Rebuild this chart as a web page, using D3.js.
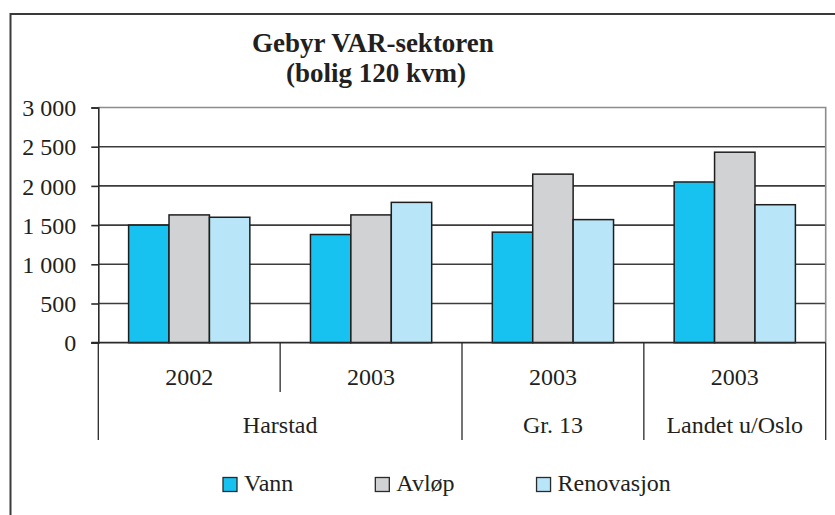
<!DOCTYPE html>
<html>
<head>
<meta charset="utf-8">
<script src="https://cdn.jsdelivr.net/npm/d3@7/dist/d3.min.js"></script>
<style>
  html, body { margin: 0; padding: 0; background: #fff; }
  svg { display: block; }
</style>
</head>
<body>
<svg id="chart" width="835" height="515"></svg>
<script>
// Fees per service, in NOK, for a 120 m² dwelling
const years   = ["2002", "2003", "2003", "2003"];
const regions = ["Harstad", "Harstad", "Gr. 13", "Landet u/Oslo"];
const seriesNames = ["Vann", "Avløp", "Renovasjon"];
const vann       = [1500, 1380, 1410, 2050];
const avlop      = [1630, 1630, 2150, 2430];
const renovasjon = [1600, 1790, 1570, 1760];
const yTicks = [0, 500, 1000, 1500, 2000, 2500, 3000];
const colors = ["#17c2f1", "#d1d2d4", "#b9e5f8"];

const seriesValues = [vann, avlop, renovasjon];
const FONT = "'Liberation Serif', 'DejaVu Serif', serif";

const svg = d3.select("#chart");

// outer chart frame
svg.append("rect")
  .attr("x", 10.5).attr("y", 14).attr("width", 900).attr("height", 600)
  .attr("fill", "none").attr("stroke", "#3a3a3a").attr("stroke-width", 2);

// title
const title = svg.append("text")
  .attr("text-anchor", "middle")
  .attr("font-weight", "bold")
  .attr("font-size", 27);
title.append("tspan").attr("x", 373).attr("y", 52).text("Gebyr VAR-sektoren");
title.append("tspan").attr("x", 376).attr("y", 82).text("(bolig 120 kvm)");

const plot = { left: 98.3, right: 825.7, top: 107.5, bottom: 342.7 };

const x0 = d3.scaleBand()
  .domain(d3.range(years.length))
  .range([plot.left, plot.right])
  .paddingInner(0).paddingOuter(0);

const x1 = d3.scaleBand()
  .domain(d3.range(seriesNames.length))
  .range([0, x0.bandwidth()])
  .paddingInner(0).paddingOuter(0.75);

const y = d3.scaleLinear().domain([0, 3000]).range([plot.bottom, plot.top]);

// horizontal gridlines
svg.append("g").selectAll("line")
  .data(yTicks.filter(t => t > 0 && t < 3000))
  .join("line")
  .attr("x1", plot.left).attr("x2", plot.right)
  .attr("y1", d => y(d)).attr("y2", d => y(d))
  .attr("stroke", "#3c3c3c").attr("stroke-width", 1.6);

// plot-area border (top and right)
svg.append("path")
  .attr("d", `M${plot.left},${y(3000)}H${plot.right}V${plot.bottom}`)
  .attr("fill", "none").attr("stroke", "#8c8c8c").attr("stroke-width", 1.6);

// y axis
const yAxis = d3.axisLeft(y)
  .tickValues(yTicks)
  .tickSize(7)
  .tickPadding(15)
  .tickFormat(d => d3.format(",")(d).replace(/,/g, " "));
const gy = svg.append("g")
  .attr("transform", `translate(${plot.left},0)`)
  .call(yAxis);
gy.select(".domain").attr("stroke", "#2a2a2a").attr("stroke-width", 1.6);
gy.selectAll(".tick line").attr("stroke", "#2a2a2a").attr("stroke-width", 1.6);
gy.selectAll(".tick text")
  .attr("font-size", 24)
  .attr("dy", "0.34em");

// bars
const groups = svg.append("g").selectAll("g")
  .data(years.map((yr, i) => i))
  .join("g")
  .attr("transform", i => `translate(${x0(i)},0)`);

groups.selectAll("rect")
  .data(i => seriesValues.map((vals, s) => ({ s, v: vals[i] })))
  .join("rect")
  .attr("x", d => x1(d.s))
  .attr("width", x1.bandwidth())
  .attr("y", d => y(d.v))
  .attr("height", d => y(0) - y(d.v))
  .attr("fill", d => colors[d.s])
  .attr("stroke", "#1e1e1e")
  .attr("stroke-width", 1.5);

// category axis line
svg.append("line")
  .attr("x1", plot.left - 7).attr("x2", plot.right)
  .attr("y1", plot.bottom).attr("y2", plot.bottom)
  .attr("stroke", "#2a2a2a").attr("stroke-width", 1.8);

// multi-level category dividers
const innerBottom = 392, outerBottom = 440;
const boundaries = d3.range(years.length + 1).map(k => {
  const xPos = k < years.length ? x0(k) : plot.right;
  const full = k === 0 || k === years.length || regions[k] !== regions[k - 1];
  return { x: xPos, full };
});
svg.append("g").selectAll("line")
  .data(boundaries)
  .join("line")
  .attr("x1", d => d.x).attr("x2", d => d.x)
  .attr("y1", plot.bottom).attr("y2", d => d.full ? outerBottom : innerBottom)
  .attr("stroke", "#2a2a2a").attr("stroke-width", 1.3);

// first level: years
svg.append("g").selectAll("text")
  .data(years)
  .join("text")
  .attr("x", (d, i) => x0(i) + x0.bandwidth() / 2)
  .attr("y", 385)
  .attr("text-anchor", "middle")
  .attr("font-size", 24)
  .text(d => d);

// second level: regions spanning consecutive groups
const spans = [];
regions.forEach((r, i) => {
  const last = spans[spans.length - 1];
  if (last && last.name === r) last.end = i;
  else spans.push({ name: r, start: i, end: i });
});
svg.append("g").selectAll("text")
  .data(spans)
  .join("text")
  .attr("x", d => (x0(d.start) + x0(d.end) + x0.bandwidth()) / 2)
  .attr("y", 433)
  .attr("text-anchor", "middle")
  .attr("font-size", 24)
  .text(d => d.name);

// legend
const legend = svg.append("g");
let lx = 223;
seriesNames.forEach((name, s) => {
  legend.append("rect")
    .attr("x", lx).attr("y", 477.5)
    .attr("width", 14).attr("height", 14)
    .attr("fill", colors[s])
    .attr("stroke", "#2a2a2a").attr("stroke-width", 1.3);
  const t = legend.append("text")
    .attr("x", lx + 21).attr("y", 491)
    .attr("font-size", 24)
    .style("font-family", FONT)
    .text(name);
  lx = lx + 21 + t.node().getComputedTextLength() + 82;
});

// serif face and ink colour for every label
svg.selectAll("text")
  .style("font-family", FONT)
  .style("fill", "#231f20");
</script>
</body>
</html>
